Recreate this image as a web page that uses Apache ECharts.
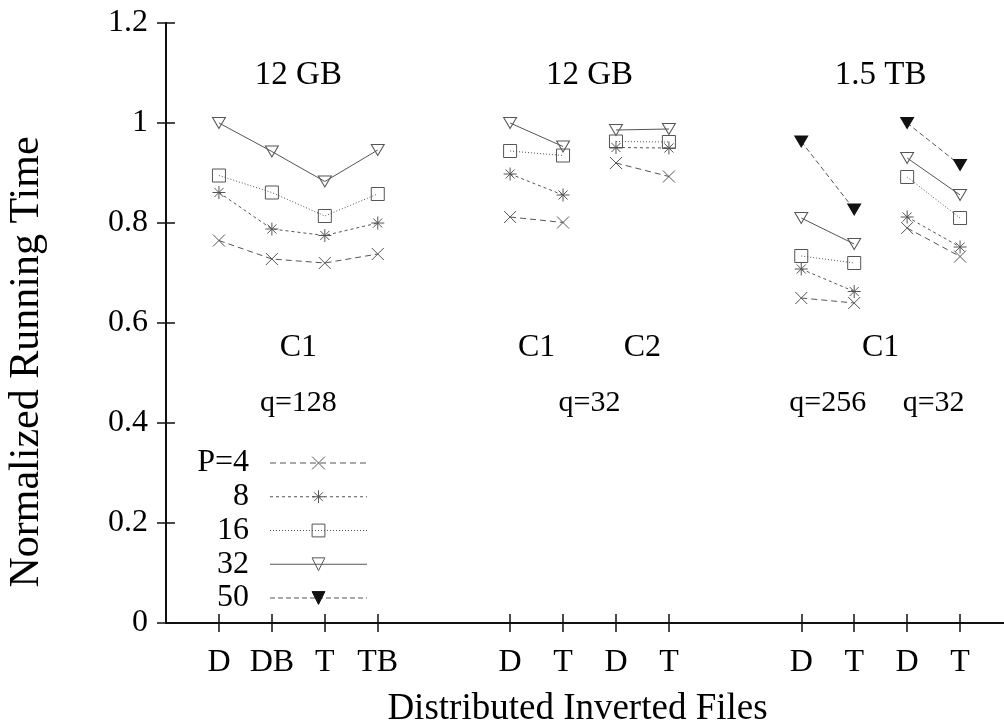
<!DOCTYPE html>
<html>
<head>
<meta charset="utf-8">
<script src="https://cdn.jsdelivr.net/npm/echarts@6/dist/echarts.min.js"></script>
<style>
html,body{margin:0;padding:0;background:#fff;}
#chart{width:1004px;height:724px;}
</style>
</head>
<body>
<div id="chart"></div>
<script>
// x positions of each plotted segment (D, DB, T, TB / D, T ...)
const segments = [[1, 2, 3, 4], [6.5, 7.5], [8.5, 9.5], [12, 13], [14, 15]];
// tick positions and labels on the x axis
const xTickPos = [1, 2, 3, 4, 6.5, 7.5, 8.5, 9.5, 12, 13, 14, 15];
const xTickLabels = ['D', 'DB', 'T', 'TB', 'D', 'T', 'D', 'T', 'D', 'T', 'D', 'T'];
// series values, one list per segment
const seriesNames = ['P=4', '8', '16', '32', '50'];
const p4  = [[0.765, 0.728, 0.720, 0.738], [0.812, 0.801], [0.920, 0.893], [0.650, 0.640], [0.790, 0.733]];
const p8  = [[0.861, 0.788, 0.775, 0.800], [0.898, 0.856], [0.951, 0.950], [0.708, 0.663], [0.812, 0.752]];
const p16 = [[0.895, 0.861, 0.814, 0.858], [0.944, 0.935], [0.963, 0.962], [0.734, 0.720], [0.892, 0.810]];
const p32 = [[1.000, 0.943, 0.883, 0.946], [1.000, 0.953], [0.986, 0.988], [0.810, 0.758], [0.930, 0.856]];
const p50 = [null, null, null, [0.963, 0.827], [1.000, 0.916]];
// annotation texts placed in data coordinates
const annotText = ['12 GB', '12 GB', '1.5 TB', 'C1', 'C1', 'C2', 'C1', 'q=128', 'q=32', 'q=256', 'q=32'];
const annotX    = [2.5, 8, 13.5, 2.5, 7, 9, 13.5, 2.5, 8, 12.5, 14.5];
const annotY    = [1.095, 1.095, 1.095, 0.55, 0.55, 0.55, 0.55, 0.44, 0.44, 0.44, 0.44];
const annotSize = [33, 33, 33, 32, 32, 32, 32, 30, 30, 30, 30];

const FONT = 'Liberation Serif';
const GRAY = '#555';

function buildData(vals) {
  const out = [];
  segments.forEach((xs, i) => {
    if (!vals[i]) return;
    if (out.length) out.push(['-', '-']);
    xs.forEach((x, j) => out.push([x, vals[i][j]]));
  });
  return out;
}

const sym = {
  cross: 'path://M0,0L10,10M10,0L0,10',
  star: 'path://M5,0L5,10M0,5L10,5M1.5,1.5L8.5,8.5M8.5,1.5L1.5,8.5',
  tri: 'path://M0,0L12,0L6,10Z'
};

const styles = [
  {symbol: sym.cross, size: 12, dash: [6, 4], fill: 'rgba(0,0,0,0)'},
  {symbol: sym.star, size: 13, dash: [3, 3], fill: 'rgba(0,0,0,0)'},
  {symbol: 'rect', size: 13, dash: [1, 2], fill: 'rgba(0,0,0,0)'},
  {symbol: sym.tri, size: [13, 11], dash: 'solid', fill: 'rgba(0,0,0,0)'},
  {symbol: sym.tri, size: [13, 11], dash: [5, 3], fill: '#111'}
];
const allVals = [p4, p8, p16, p32, p50];

const series = allVals.map((vals, k) => ({
  name: seriesNames[k],
  type: 'line',
  data: buildData(vals),
  symbol: styles[k].symbol,
  symbolSize: styles[k].size,
  showAllSymbol: true,
  connectNulls: false,
  animation: false,
  lineStyle: {color: GRAY, width: 1, type: styles[k].dash},
  itemStyle: {color: styles[k].fill, borderColor: k === 4 ? '#111' : GRAY, borderWidth: 1}
}));

series.push({
  name: 'annotations',
  type: 'scatter',
  symbolSize: 0,
  animation: false,
  silent: true,
  itemStyle: {opacity: 1},
  data: annotText.map((t, i) => ({
    name: t,
    value: [annotX[i], annotY[i]],
    label: {fontSize: annotSize[i], color: '#000'}
  })),
  label: {
    show: true, position: 'inside', formatter: '{b}', opacity: 1,
    color: '#000', fontFamily: FONT, fontSize: 32, textBorderWidth: 0
  }
});

const chart = echarts.init(document.getElementById('chart'), null, {renderer: 'canvas'});
chart.setOption({
  backgroundColor: '#fff',
  animation: false,
  grid: {left: 166, top: 23, width: 847, height: 600, containLabel: false, outerBoundsMode: 'none'},
  xAxis: [{
    type: 'value', min: 0, max: 16, position: 'bottom',
    name: 'Distributed Inverted Files', nameLocation: 'middle', nameGap: 68,
    nameTextStyle: {fontFamily: FONT, fontSize: 37, color: '#000', padding: [0, 24, 0, 0]},
    axisLine: {show: true, lineStyle: {color: '#111', width: 2}},
    axisTick: {show: true, inside: true, length: 9, lineStyle: {color: '#111', width: 1.5}, customValues: xTickPos},
    axisLabel: {
      show: true, margin: 24, fontFamily: FONT, fontSize: 32, color: '#000',
      customValues: xTickPos,
      formatter: v => xTickLabels[xTickPos.indexOf(v)]
    },
    splitLine: {show: false}
  }, {
    type: 'value', min: 0, max: 16, position: 'top',
    axisLine: {show: true, lineStyle: {color: '#111', width: 2}},
    axisTick: {show: true, inside: true, length: 9, lineStyle: {color: '#111', width: 1.5}, customValues: xTickPos},
    axisLabel: {show: false},
    splitLine: {show: false}
  }],
  yAxis: [{
    type: 'value', min: 0, max: 1.2, interval: 0.2, position: 'left',
    name: 'Normalized Running Time', nameLocation: 'middle', nameRotate: 90, nameGap: 118,
    nameTextStyle: {fontFamily: FONT, fontSize: 42, color: '#000', padding: [0, 78, 0, 0]},
    axisLine: {show: true, lineStyle: {color: '#111', width: 2}},
    axisTick: {show: true, inside: true, length: 9, lineStyle: {color: '#111', width: 1.5}},
    axisLabel: {margin: 18, fontFamily: FONT, fontSize: 32, color: '#000'},
    splitLine: {show: false}
  }, {
    type: 'value', min: 0, max: 1.2, interval: 0.2, position: 'right',
    axisLine: {show: true, lineStyle: {color: '#111', width: 2}},
    axisTick: {show: true, inside: true, length: 9, lineStyle: {color: '#111', width: 1.5}},
    axisLabel: {show: false},
    splitLine: {show: false}
  }],
  legend: {
    data: seriesNames,
    orient: 'vertical',
    left: 179, top: 447,
    padding: 0,
    align: 'right',
    itemWidth: 97, itemHeight: 16, itemGap: 1.75,
    selectedMode: false,
    lineStyle: {width: 1},
    itemStyle: {borderWidth: 1},
    formatter: n => '{a|' + n + '}',
    textStyle: {
      rich: {a: {width: 70, align: 'right', fontFamily: FONT, fontSize: 32, color: '#000', lineHeight: 30, padding: [0, 16, 0, 0]}}
    }
  },
  series: series
});
</script>
</body>
</html>
